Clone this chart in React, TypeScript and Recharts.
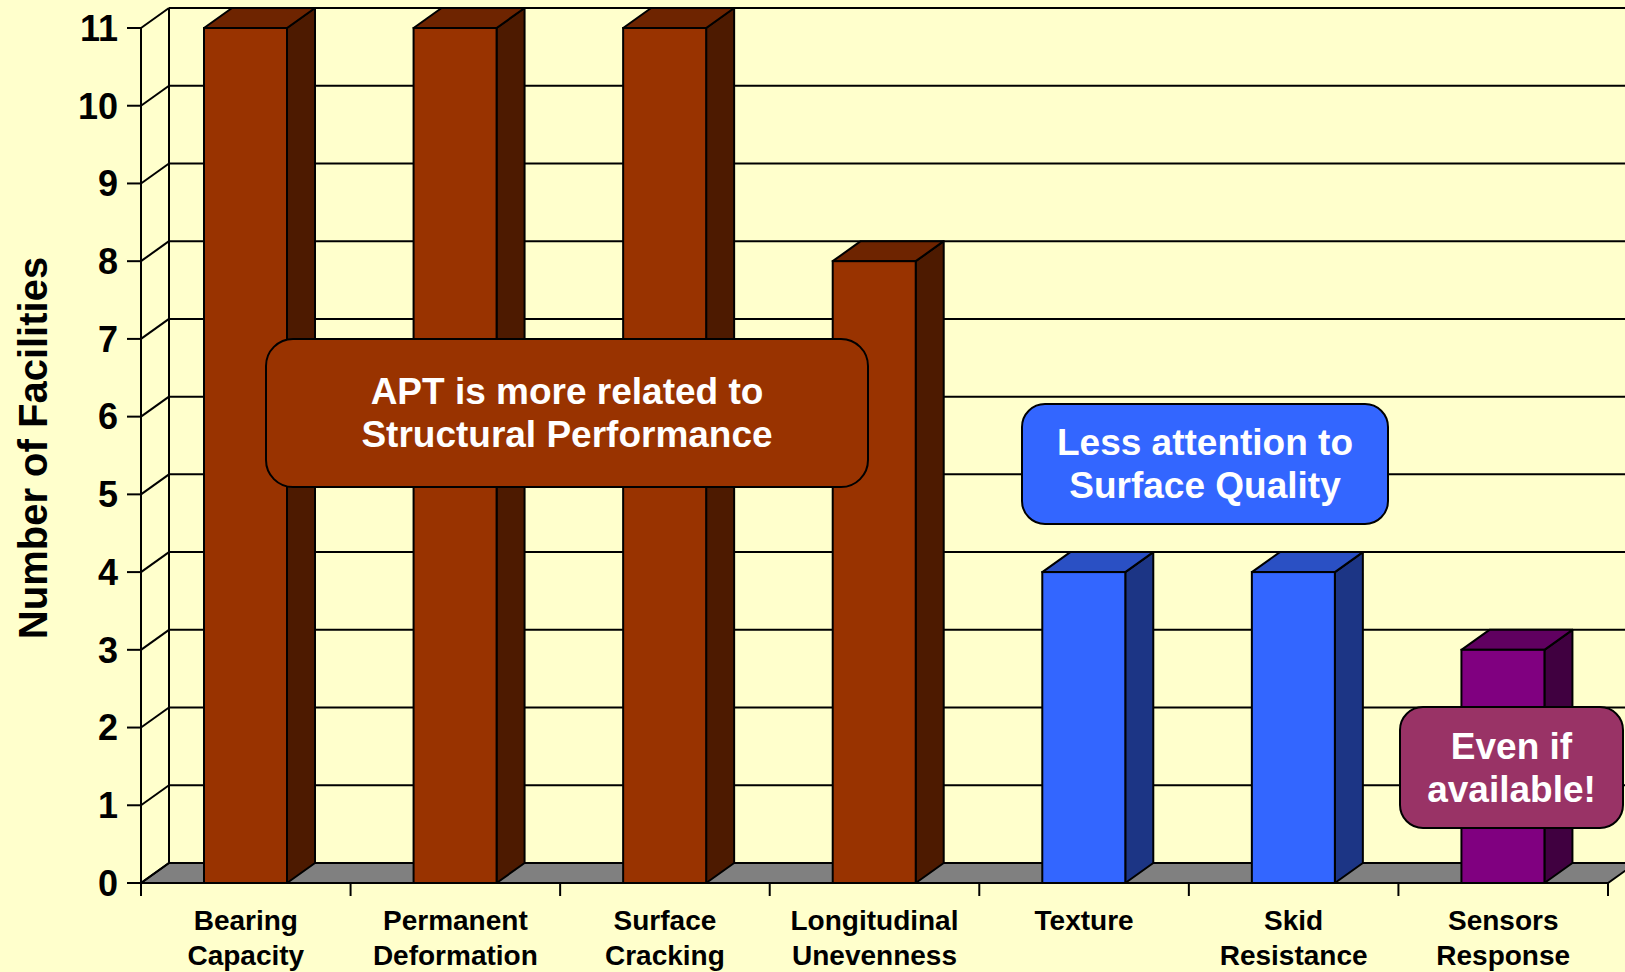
import React from 'react';
import { BarChart, Bar, XAxis, YAxis, CartesianGrid, Cell } from 'recharts';

// chart values
const categoryLines: string[][] = [
  ['Bearing', 'Capacity'],
  ['Permanent', 'Deformation'],
  ['Surface', 'Cracking'],
  ['Longitudinal', 'Unevenness'],
  ['Texture'],
  ['Skid', 'Resistance'],
  ['Sensors', 'Response'],
];
const facilities = [11, 11, 11, 8, 4, 4, 3];
const groups = ['structural', 'structural', 'structural', 'structural', 'surface', 'surface', 'sensor'];
const yTicks = [0, 1, 2, 3, 4, 5, 6, 7, 8, 9, 10, 11];

const data = categoryLines.map((lines, i) => ({
  name: lines.join(' '),
  value: facilities[i],
  group: groups[i],
}));

const PALETTE: Record<string, { front: string; side: string; top: string }> = {
  structural: { front: '#993300', side: '#4d1a00', top: '#6e2400' },
  surface: { front: '#3366ff', side: '#1c3585', top: '#2a50c4' },
  sensor: { front: '#800080', side: '#400040', top: '#600060' },
};

const W = 1625;
const H = 972;
const DX = 28;
const DY = -20;
const FONT = '"Liberation Sans", Arial, sans-serif';
const BG = '#ffffcc';

// back wall, floor and the little connectors from the front axis
const gridLine = (p: any) => {
  const top = p.y ?? 28;
  const bottom = top + (p.height ?? 855);
  const left = p.x1;
  const right = p.x2;
  const y = p.y1;
  const isFloor = Math.abs(y - bottom) < 1;
  const isTop = Math.abs(y - top) < 1;
  return (
    <g key={p.key}>
      {isFloor && (
        <polygon
          points={`${left},${y} ${right},${y} ${right + DX},${y + DY} ${left + DX},${y + DY}`}
          fill="#808080"
          stroke="#000"
          strokeWidth={2}
        />
      )}
      {isTop && (
        <line x1={left + DX} y1={top + DY} x2={left + DX} y2={bottom + DY} stroke="#000" strokeWidth={2} />
      )}
      <line x1={left + DX} y1={y + DY} x2={right + DX} y2={y + DY} stroke="#000" strokeWidth={2} />
      <line x1={left} y1={y} x2={left + DX} y2={y + DY} stroke="#000" strokeWidth={2} />
    </g>
  );
};

const Bar3D = (props: any) => {
  const { x, y, width, height, index } = props;
  if (!height || height <= 0) return null;
  const c = PALETTE[groups[index]] || PALETTE.structural;
  const r = x + width;
  return (
    <g>
      <polygon
        points={`${r},${y} ${r + DX},${y + DY} ${r + DX},${y + height + DY} ${r},${y + height}`}
        fill={c.side}
        stroke="#000"
        strokeWidth={2}
        strokeLinejoin="round"
      />
      <polygon
        points={`${x},${y} ${x + DX},${y + DY} ${r + DX},${y + DY} ${r},${y}`}
        fill={c.top}
        stroke="#000"
        strokeWidth={2}
        strokeLinejoin="round"
      />
      <rect x={x} y={y} width={width} height={height} fill={c.front} stroke="#000" strokeWidth={2} />
    </g>
  );
};

const CategoryTick = (props: any) => {
  const { x, y, payload, index } = props;
  const half = payload?.offset ?? 1467 / 14;
  const lines = categoryLines[index] || [String(payload?.value ?? '')];
  return (
    <g>
      <line x1={x - half} y1={y} x2={x - half} y2={y + 13} stroke="#000" strokeWidth={2} />
      {index === categoryLines.length - 1 && (
        <line x1={x + half} y1={y} x2={x + half} y2={y + 13} stroke="#000" strokeWidth={2} />
      )}
      {lines.map((t, i) => (
        <text
          key={i}
          x={x}
          y={y + 47 + i * 35}
          textAnchor="middle"
          fill="#000"
          style={{ fontFamily: FONT, fontWeight: 700, fontSize: 28 }}
        >
          {t}
        </text>
      ))}
    </g>
  );
};

const boxText: React.CSSProperties = {
  position: 'absolute',
  display: 'flex',
  alignItems: 'center',
  justifyContent: 'center',
  textAlign: 'center',
  color: '#fff',
  fontFamily: FONT,
  fontWeight: 700,
  fontSize: 37,
  lineHeight: '43px',
  border: '2px solid #000',
  borderRadius: 28,
  boxSizing: 'border-box',
};

export default function App() {
  return (
    <div style={{ position: 'absolute', left: 0, top: 0, width: W, height: H, background: BG, overflow: 'hidden' }}>
      <BarChart width={W} height={H} data={data} margin={{ top: 28, right: 17, left: 0, bottom: 0 }}>
        <CartesianGrid vertical={false} horizontal={gridLine} />
        <XAxis
          dataKey="name"
          interval={0}
          height={89}
          tickLine={false}
          tickSize={0}
          tickMargin={0}
          axisLine={{ stroke: '#000', strokeWidth: 2 }}
          tick={<CategoryTick />}
        />
        <YAxis
          width={141}
          domain={[0, 11]}
          ticks={yTicks}
          interval={0}
          tickSize={14}
          tickMargin={9}
          axisLine={{ stroke: '#000', strokeWidth: 2 }}
          tickLine={{ stroke: '#000', strokeWidth: 2 }}
          tick={{ fill: '#000', fontFamily: FONT, fontWeight: 700, fontSize: 36 }}
        />
        <Bar dataKey="value" barSize={83} shape={<Bar3D />} isAnimationActive={false}>
          {data.map((d, i) => (
            <Cell key={i} fill={PALETTE[d.group].front} />
          ))}
        </Bar>
      </BarChart>

      <div
        style={{
          position: 'absolute',
          left: 33,
          top: 448,
          transform: 'translate(-50%, -50%) rotate(-90deg)',
          whiteSpace: 'nowrap',
          fontFamily: FONT,
          fontWeight: 700,
          fontSize: 40,
          color: '#000',
        }}
      >
        Number of Facilities
      </div>

      <div style={{ ...boxText, left: 265, top: 338, width: 604, height: 150, background: '#993300' }}>
        APT is more related to
        <br />
        Structural Performance
      </div>
      <div style={{ ...boxText, left: 1021, top: 403, width: 368, height: 122, background: '#3366ff', borderRadius: 24 }}>
        Less attention to
        <br />
        Surface Quality
      </div>
      <div style={{ ...boxText, left: 1399, top: 706, width: 225, height: 123, background: '#993366', borderRadius: 24 }}>
        Even if
        <br />
        available!
      </div>
    </div>
  );
}
